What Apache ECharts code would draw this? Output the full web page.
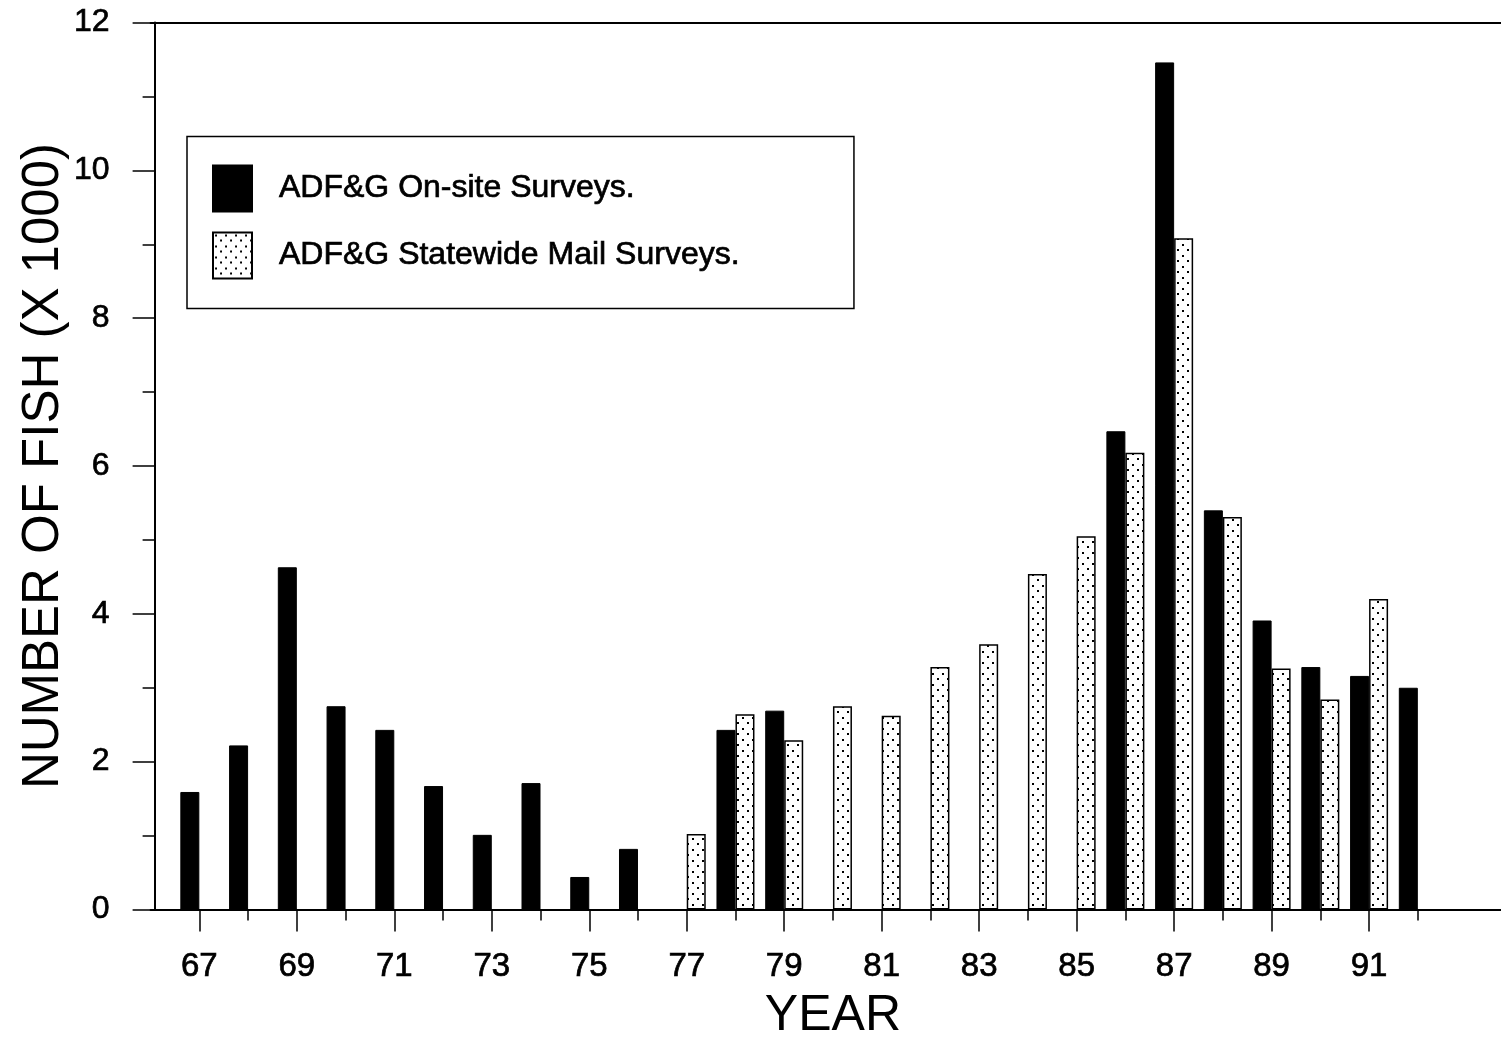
<!DOCTYPE html>
<html>
<head>
<meta charset="utf-8">
<title>Number of fish by year</title>
<script src="https://cdn.jsdelivr.net/npm/echarts@6/dist/echarts.min.js"></script>
<style>
  html, body { margin: 0; padding: 0; background: #fff; }
  #chart { width: 1501px; height: 1043px; }
</style>
</head>
<body>
<div id="chart"></div>
<script>
// years on the x axis (19xx), 66 and 93/94 are just padding at the ends
var years = ['66', '67', '68', '69', '70', '71', '72', '73', '74', '75', '76', '77', '78', '79',
  '80', '81', '82', '83', '84', '85', '86', '87', '88', '89', '90', '91', '92', '93', '94'];
// ADF&G on-site surveys, thousands of fish (null = no survey)
var onSite = [null, 1.59, 2.22, 4.63, 2.75, 2.43, 1.67, 1.01, 1.71, 0.44, 0.82, null, 2.43, 2.69,
  null, null, null, null, null, null, 6.47, 11.46, 5.40, 3.91, 3.28, 3.16, 3.00, null, null];
// ADF&G statewide mail surveys, thousands of fish
var mail = [null, null, null, null, null, null, null, null, null, null, null, 1.02, 2.64, 2.29,
  2.75, 2.62, 3.28, 3.59, 4.54, 5.05, 6.18, 9.08, 5.31, 3.26, 2.84, 4.20, null, null, null];
// years that get a tick mark, and the ones that get a label and a long tick
var tickYears = ['67', '68', '69', '70', '71', '72', '73', '74', '75', '76', '77', '78', '79', '80',
  '81', '82', '83', '84', '85', '86', '87', '88', '89', '90', '91', '92'];
var labelYears = ['67', '69', '71', '73', '75', '77', '79', '81', '83', '85', '87', '89', '91'];

var FONT = '"Liberation Sans", Arial, Helvetica, sans-serif';

// dotted fill for the mail survey bars
function dotPattern() {
  var c = document.createElement('canvas');
  c.width = 10;
  c.height = 11;
  var ctx = c.getContext('2d');
  ctx.fillStyle = '#fff';
  ctx.fillRect(0, 0, 10, 11);
  ctx.fillStyle = '#000';
  ctx.fillRect(2, 2, 2, 2);
  ctx.fillRect(7, 7, 2, 2);
  return c;
}

var chart = echarts.init(document.getElementById('chart'), null, { renderer: 'canvas' });

var option = {
  backgroundColor: '#fff',
  animation: false,
  textStyle: { fontFamily: FONT, color: '#000' },
  grid: {
    left: 150.6, top: 22.5, width: 1364.7, height: 887,
    containLabel: false,
    outerBoundsMode: 'none'
  },
  legend: {
    orient: 'vertical',
    left: 187,
    top: 136.5,
    padding: [28, 114, 29, 25],
    itemGap: 19,
    itemWidth: 39,
    itemHeight: 46,
    icon: 'rect',
    borderColor: '#000',
    borderWidth: 1.5,
    backgroundColor: '#fff',
    selectedMode: false,
    textStyle: {
      fontFamily: FONT, fontSize: 32, color: '#000',
      textBorderColor: '#000', textBorderWidth: 0.7,
      padding: [14, 0, 0, 22]
    },
    data: ['ADF&G On-site Surveys.', 'ADF&G Statewide Mail Surveys.']
  },
  xAxis: [
    {
      // axis carrying the bars, short ticks on every year
      type: 'category',
      position: 'bottom',
      data: years,
      boundaryGap: false,
      axisLine: { lineStyle: { color: '#000', width: 2 } },
      axisTick: {
        length: 11,
        lineStyle: { color: '#000', width: 1.5 },
        interval: function (i, v) { return tickYears.indexOf(v) >= 0; }
      },
      axisLabel: { show: false },
      splitLine: { show: false }
    },
    {
      // long ticks and labels on odd years
      type: 'category',
      position: 'bottom',
      data: years,
      boundaryGap: false,
      axisLine: { show: false },
      axisTick: {
        length: 22,
        lineStyle: { color: '#000', width: 1.5 },
        interval: function (i, v) { return labelYears.indexOf(v) >= 0; }
      },
      axisLabel: {
        margin: 41,
        fontSize: 33,
        fontFamily: FONT,
        color: '#000',
        textBorderColor: '#000',
        textBorderWidth: 0.7,
        interval: function (i, v) { return labelYears.indexOf(v) >= 0; }
      },
      name: 'YEAR',
      nameLocation: 'middle',
      nameGap: 82,
      nameMoveOverlap: false,
      nameTextStyle: { fontSize: 50, fontFamily: FONT, color: '#000' },
      splitLine: { show: false }
    },
    {
      // top frame line
      type: 'category',
      position: 'top',
      data: years,
      boundaryGap: false,
      axisLine: { lineStyle: { color: '#000', width: 2 } },
      axisTick: { show: false },
      axisLabel: { show: false },
      splitLine: { show: false }
    }
  ],
  yAxis: {
    type: 'value',
    min: 0,
    max: 12,
    interval: 2,
    offset: -4,
    axisLine: { show: true, lineStyle: { color: '#000', width: 2 } },
    axisTick: { show: true, length: 22, lineStyle: { color: '#000', width: 1.5 } },
    minorTick: { show: true, splitNumber: 2, length: 12, lineStyle: { color: '#000', width: 1.5 } },
    axisLabel: {
      margin: 45, fontSize: 32, fontFamily: FONT, color: '#000',
      textBorderColor: '#000', textBorderWidth: 0.7
    },
    splitLine: { show: false },
    name: 'NUMBER OF FISH (X 1000)',
    nameLocation: 'middle',
    nameGap: 85,
    nameMoveOverlap: false,
    nameTextStyle: { fontSize: 51, fontFamily: FONT, color: '#000' }
  },
  series: [
    {
      name: 'ADF&G On-site Surveys.',
      type: 'bar',
      data: onSite,
      barWidth: 19,
      barGap: '0%',
      itemStyle: { color: '#000', borderColor: '#000', borderWidth: 1 }
    },
    {
      name: 'ADF&G Statewide Mail Surveys.',
      type: 'bar',
      data: mail,
      barWidth: 19,
      barGap: '0%',
      itemStyle: {
        color: { image: dotPattern(), repeat: 'repeat' },
        borderColor: '#000',
        borderWidth: 1.5
      }
    }
  ]
};

chart.setOption(option);
</script>
</body>
</html>
